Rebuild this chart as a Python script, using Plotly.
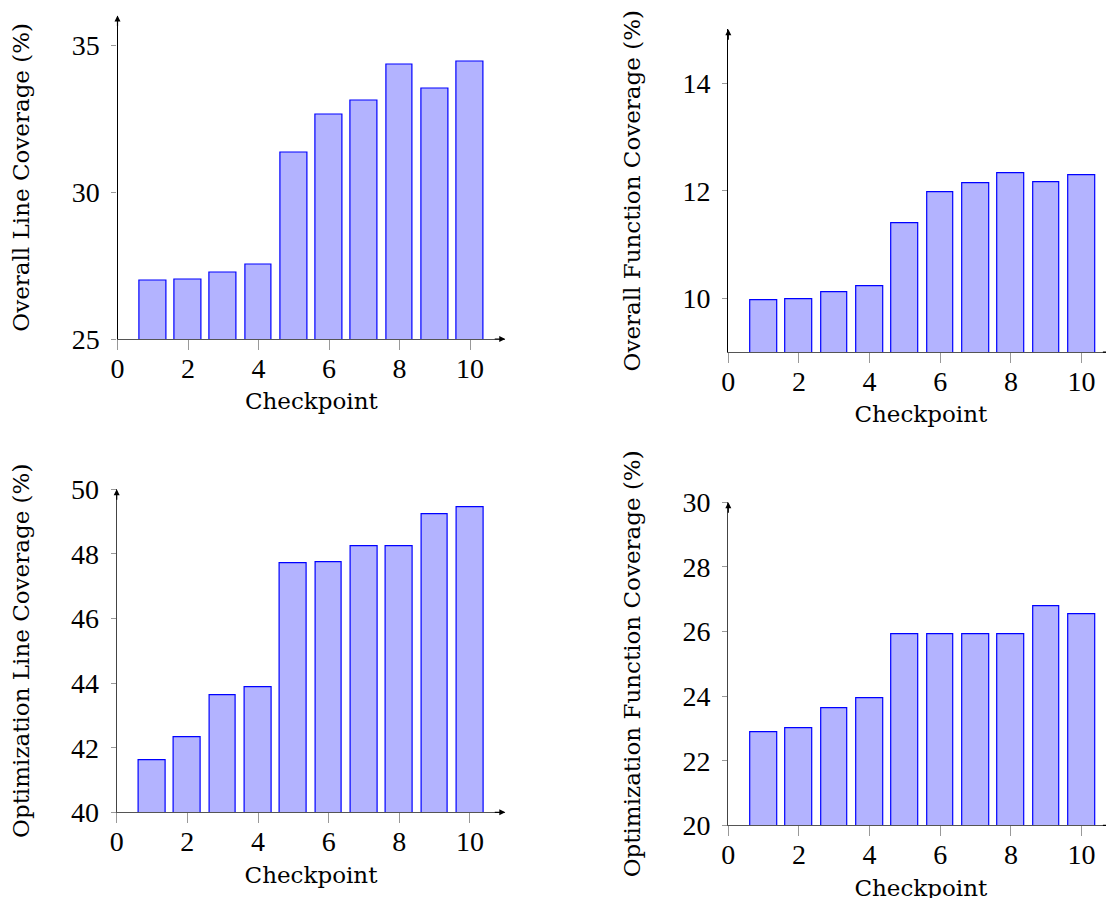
import plotly.graph_objects as go

checkpoints = [1, 2, 3, 4, 5, 6, 7, 8, 9, 10]
overall_line = [26.97, 27.03, 27.26, 27.52, 31.35, 32.62, 33.12, 34.33, 33.51, 34.43]
overall_function = [9.96, 9.99, 10.12, 10.22, 11.40, 11.97, 12.14, 12.33, 12.16, 12.28]
optim_line = [41.61, 42.32, 43.62, 43.86, 47.72, 47.73, 48.22, 48.22, 49.22, 49.43]
optim_function = [22.87, 23.00, 23.62, 23.93, 25.91, 25.91, 25.91, 25.91, 26.78, 26.53]

x_tick_vals = [0, 2, 4, 6, 8, 10]
y_ticks_1 = [25, 30, 35]
y_ticks_2 = [10, 12, 14]
y_ticks_3 = [40, 42, 44, 46, 48, 50]
y_ticks_4 = [20, 22, 24, 26, 28, 30]

x_title = "Checkpoint"
y_titles = [
    "Overall Line Coverage (%)",
    "Overall Function Coverage (%)",
    "Optimization Line Coverage (%)",
    "Optimization Function Coverage (%)",
]

W, H = 1114, 898
OFF = 8  # page body margin of the html page

panels = [
    # values, xrange, yrange, yticks, x px domain, y px (bottom, top), y axis line color
    (overall_line, [0, 11], [25, 36], y_ticks_1, (117.5, 505.25), (339.0, 15.6), "black"),
    (overall_function, [0, 10.9], [9, 15], y_ticks_2, (728.3, 1113.4), (352.1, 29.3), "black"),
    (optim_line, [0, 11], [40, 50], y_ticks_3, (116.7, 505.3), (812.3, 489.3), "#444444"),
    (optim_function, [0, 10.9], [20, 30], y_ticks_4, (728.3, 1113.4), (825.3, 502.3), "#444444"),
]

tick_font = dict(family="Liberation Serif", size=28, color="black")
title_font = dict(family="DejaVu Serif", size=23, color="black")

fig = go.Figure()
layout = dict(
    width=W, height=H, autosize=False,
    margin=dict(l=0, r=0, t=0, b=0, pad=0, autoexpand=False),
    paper_bgcolor="white", plot_bgcolor="white",
    showlegend=False,
    bargap=0,
    annotations=[],
)

for i, (vals, xr, yr, yt, xd, yd, ycol) in enumerate(panels):
    n = i + 1
    xs = "" if n == 1 else str(n)
    xa, ya = "x" + xs, "y" + xs
    xdom = [(xd[0] - OFF) / W, (xd[1] - OFF) / W]
    ydom = [1 - (yd[0] - OFF) / H, 1 - (yd[1] - OFF) / H]
    fig.add_trace(go.Bar(
        x=checkpoints, y=vals, xaxis=xa, yaxis=ya, width=0.76,
        marker=dict(color="#b3b3ff", line=dict(color="#0000ff", width=1.2)),
        hoverinfo="skip",
    ))
    layout["xaxis" + xs] = dict(
        domain=xdom, range=xr, anchor=ya, automargin=False,
        tickmode="array", tickvals=x_tick_vals,
        ticks="outside", ticklen=10, tickwidth=1, tickcolor="#999999",
        showline=True, linecolor="#555555", linewidth=1.2,
        showgrid=False, zeroline=False, tickfont=tick_font,
        ticklabelstandoff=-6,
        title=dict(text=x_title, font=title_font, standoff=10),
    )
    layout["yaxis" + xs] = dict(
        domain=ydom, range=yr, anchor=xa, automargin=False,
        tickmode="array", tickvals=yt,
        ticks="outside", ticklen=5, tickwidth=1, tickcolor="#999999",
        showline=True, linecolor=ycol, linewidth=1.2,
        showgrid=False, zeroline=False, tickfont=tick_font,
        ticklabelstandoff=6,
        title=dict(text=y_titles[i], font=title_font, standoff=35),
    )
    # inner half of the centred y ticks
    m = str(n + 4)
    layout["yaxis" + m] = dict(
        domain=ydom, range=yr, anchor=xa, automargin=False,
        overlaying=ya, side="left",
        tickmode="array", tickvals=yt, showticklabels=False,
        ticks="inside", ticklen=5, tickwidth=1, tickcolor="#999999",
        showline=False, showgrid=False, zeroline=False,
    )
    # arrow heads at the axis ends
    layout["annotations"].append(dict(
        x=xr[1], y=yr[0], xref=xa, yref=ya, ax=-12, ay=0,
        showarrow=True, arrowhead=2, arrowsize=1, arrowwidth=1.2,
        arrowcolor="black", text="",
    ))
    layout["annotations"].append(dict(
        x=0, y=yr[1], xref=xa, yref=ya, ax=0, ay=12,
        showarrow=True, arrowhead=2, arrowsize=1, arrowwidth=1.2,
        arrowcolor="black", text="",
    ))

fig.update_layout(**layout)
fig.write_html("out.html")
